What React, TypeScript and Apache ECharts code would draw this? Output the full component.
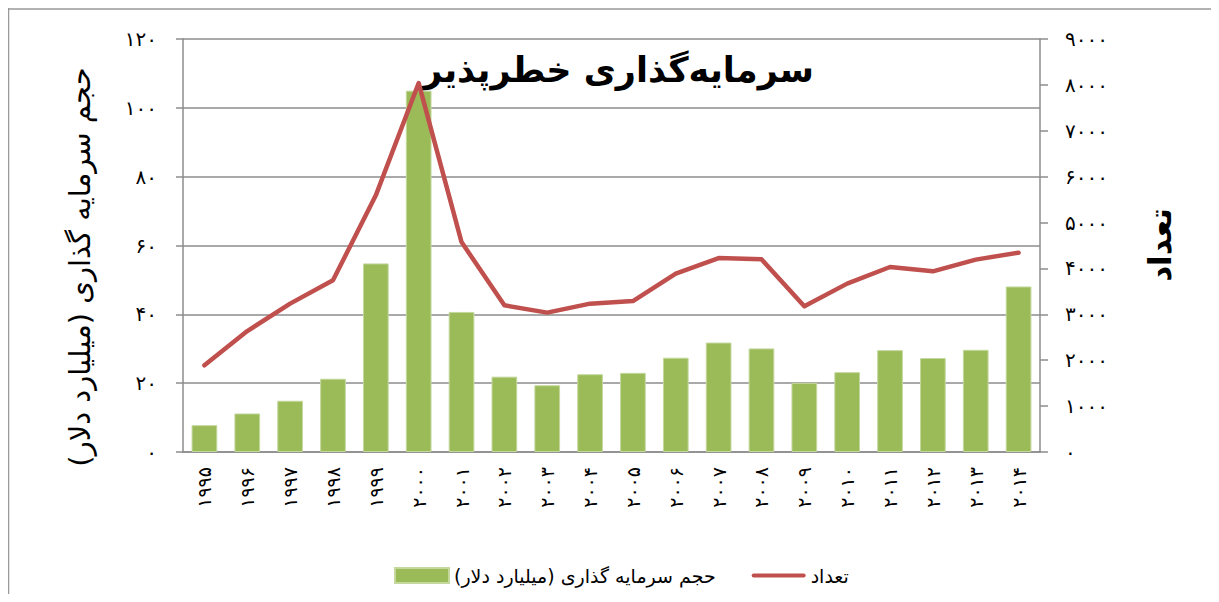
import React, { useEffect, useRef } from "react";
import * as echarts from "echarts";

const years = ["1995","1996","1997","1998","1999","2000","2001","2002","2003","2004","2005","2006","2007","2008","2009","2010","2011","2012","2013","2014"];
const investment = [7.8, 11.2, 14.9, 21.3, 54.8, 105, 40.7, 21.9, 19.4, 22.6, 23, 27.4, 31.8, 30.1, 20.1, 23.2, 29.6, 27.3, 29.7, 48.1];
const counts = [1890, 2636, 3233, 3741, 5593, 8040, 4575, 3196, 3037, 3233, 3290, 3887, 4227, 4198, 3174, 3669, 4031, 3937, 4192, 4344];

const titleText = "سرمایه‌گذاری خطرپذیر";
const leftAxisTitle = "حجم سرمایه گذاری (میلیارد دلار)";
const rightAxisTitle = "تعداد";
const barName = "حجم سرمایه گذاری (میلیارد دلار)";
const lineName = "تعداد";

const faDigits = "۰۱۲۳۴۵۶۷۸۹";
const fa = (v: string | number) => String(v).replace(/[0-9]/g, (d) => faDigits[Number(d)]);

const FONT = "DejaVu Sans";
const GRAY = "#8c8c8c";

export default function App() {
  const ref = useRef<HTMLDivElement>(null);
  useEffect(() => {
    if (!ref.current) return;
    const chart = echarts.init(ref.current, null, { renderer: "svg" });
    chart.setOption({
      animation: false,
      textStyle: { fontFamily: FONT, color: "#000" },
      grid: { left: 175, right: 171, top: 31, bottom: 142, containLabel: false },
      graphic: [
        { type: "line", shape: { x1: 0.5, y1: 0, x2: 0.5, y2: 586 }, style: { stroke: "#999", lineWidth: 1.5 } },
        { type: "line", shape: { x1: 0, y1: 1, x2: 1203, y2: 1 }, style: { stroke: "#999", lineWidth: 1.5 } },
        {
          type: "text", x: 610, y: 62,
          style: { text: titleText, font: `bold 35px "${FONT}"`, fill: "#000", textAlign: "center", textVerticalAlign: "middle" },
        },
        {
          type: "text", x: 72, y: 259, rotation: Math.PI / 2,
          style: { text: leftAxisTitle, font: `29px "${FONT}"`, fill: "#000", textAlign: "center", textVerticalAlign: "middle" },
        },
        {
          type: "text", x: 1152, y: 237, rotation: Math.PI / 2,
          style: { text: rightAxisTitle, font: `bold 31px "${FONT}"`, fill: "#000", textAlign: "center", textVerticalAlign: "middle" },
        },
      ],
      legend: {
        left: 381, top: 553,
        itemWidth: 54, itemHeight: 15, itemGap: 36,
        textStyle: { fontFamily: FONT, fontSize: 19, color: "#000" },
        data: [
          { name: barName, icon: "rect" },
          { name: lineName, icon: "path://M2,0h50a2,2,0,0,1,0,4h-50a2,2,0,0,1,0,-4z" },
        ],
      },
      xAxis: {
        type: "category",
        data: years,
        axisLine: { lineStyle: { color: GRAY, width: 1.5 } },
        axisTick: { interval: 0, length: 8, lineStyle: { color: GRAY, width: 1.5 } },
        axisLabel: { rotate: 90, interval: 0, margin: 15, fontSize: 19, color: "#000", fontFamily: FONT, formatter: (v: string) => fa(v) },
      },
      yAxis: [
        {
          type: "value", min: 0, max: 120, interval: 20, position: "left",
          axisLine: { show: true, lineStyle: { color: GRAY, width: 1.5 } },
          axisTick: { show: true, length: 7, lineStyle: { color: GRAY, width: 1.5 } },
          splitLine: { show: true, lineStyle: { color: GRAY, width: 1.5 } },
          axisLabel: { margin: 26, fontSize: 20, color: "#000", fontFamily: FONT, formatter: (v: number) => fa(v) },
        },
        {
          type: "value", min: 0, max: 9000, interval: 1000, position: "right",
          axisLine: { show: true, lineStyle: { color: GRAY, width: 1.5 } },
          axisTick: { show: true, length: 8, lineStyle: { color: GRAY, width: 1.5 } },
          splitLine: { show: false },
          axisLabel: { margin: 25, fontSize: 20, color: "#000", fontFamily: FONT, formatter: (v: number) => fa(v) },
        },
      ],
      series: [
        {
          name: barName, type: "bar", data: investment, yAxisIndex: 0, barWidth: "60%",
          itemStyle: { color: "#9BBB59", borderColor: "#c4d89e", borderWidth: 1 },
        },
        {
          name: lineName, type: "line", data: counts, yAxisIndex: 1, symbol: "none",
          lineStyle: { color: "#C0504D", width: 4.5, cap: "round", join: "round" },
          itemStyle: { color: "#C0504D" },
        },
      ],
    });
    return () => chart.dispose();
  }, []);
  return <div ref={ref} style={{ width: 1203, height: 586 }} />;
}
